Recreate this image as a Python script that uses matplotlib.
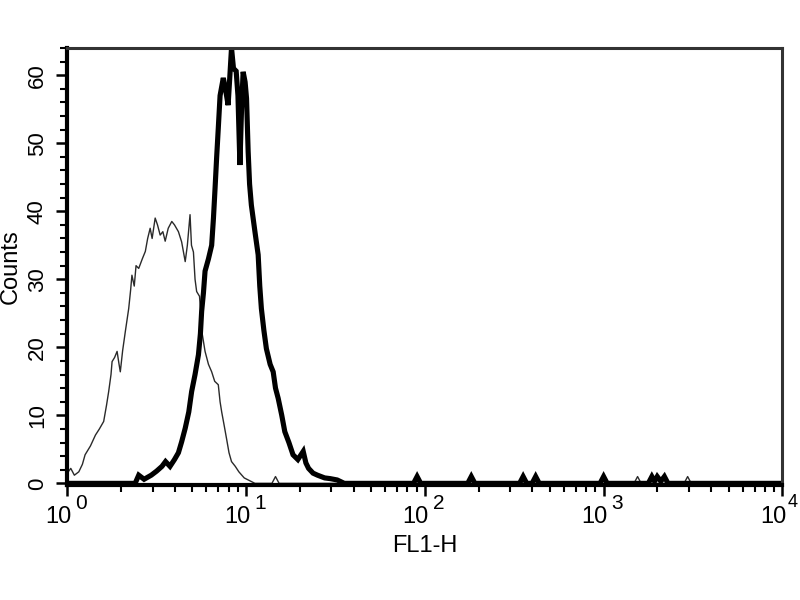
import numpy as np
import matplotlib
matplotlib.use("Agg")
import matplotlib.pyplot as plt
from matplotlib.ticker import LogLocator, MultipleLocator, NullFormatter
from matplotlib import font_manager

plt.rcParams['font.family'] = ['Liberation Sans', 'DejaVu Sans']

names = {f.name for f in font_manager.fontManager.ttflist}
narrow = 'Liberation Sans Narrow' if 'Liberation Sans Narrow' in names else 'Liberation Sans'

# ---- data (log10 of FL1-H, counts) ----
thin_log10 = [0.00, 0.02, 0.04, 0.065, 0.085, 0.10, 0.13, 0.158, 0.18, 0.204,
              0.22, 0.232, 0.245, 0.251, 0.265, 0.279, 0.29, 0.297, 0.31, 0.325,
              0.344, 0.355, 0.362, 0.375, 0.385, 0.40, 0.42, 0.437, 0.45, 0.464,
              0.475, 0.492, 0.505, 0.52, 0.535, 0.548, 0.565, 0.585, 0.60, 0.622,
              0.64, 0.66, 0.672, 0.687, 0.695, 0.706, 0.715, 0.724, 0.74, 0.755,
              0.771, 0.79, 0.808, 0.825, 0.845, 0.855, 0.864, 0.878, 0.891, 0.905,
              0.919, 0.94, 0.96, 0.99, 1.02, 1.05, 1.145, 1.165, 1.185,
              3.17, 3.19, 3.21, 3.45, 3.47, 3.49, 4.0]
thin_counts = [1.5, 2.2, 1.2, 1.7, 2.8, 4.2, 5.5, 7.1, 8.0, 9.1,
               11.5, 13.5, 16.0, 17.9, 18.5, 19.4, 17.5, 16.4, 19.5, 22.3,
               25.7, 28.5, 30.6, 29.0, 32.0, 31.6, 33.0, 34.1, 36.0, 37.5,
               36.0, 39.0, 38.0, 36.5, 37.0, 35.6, 37.5, 38.5, 38.0, 37.0,
               35.5, 32.6, 35.0, 39.5, 35.0, 34.0, 30.0, 28.2, 27.5, 22.0,
               19.4, 17.5, 16.4, 15.0, 14.5, 12.0, 10.5, 8.5, 6.6, 4.5,
               3.2, 2.5, 1.7, 0.8, 0.4, 0.0, 0.0, 1.0, 0.0,
               0.0, 1.0, 0.0, 0.0, 1.0, 0.0, 0.0]

thick_log10 = [0.00, 0.38, 0.40, 0.43, 0.47, 0.50, 0.53, 0.55, 0.575, 0.60,
               0.622, 0.64, 0.66, 0.68, 0.696, 0.715, 0.734, 0.745, 0.752, 0.762,
               0.771, 0.79, 0.808, 0.818, 0.827, 0.836, 0.845, 0.855, 0.873, 0.885,
               0.90, 0.91, 0.919, 0.93, 0.945, 0.955, 0.966, 0.975, 0.984, 0.995,
               1.003, 1.012, 1.02, 1.03, 1.05, 1.068, 1.077, 1.086, 1.10, 1.114,
               1.135, 1.152, 1.165, 1.18, 1.20, 1.217, 1.24, 1.263, 1.29, 1.32,
               1.335, 1.35, 1.375, 1.40, 1.44, 1.47, 1.51, 1.55,
               1.937, 1.957, 1.977, 2.24, 2.26, 2.28, 2.53, 2.55, 2.57, 2.60, 2.62, 2.64,
               2.98, 3.00, 3.02, 3.25, 3.27, 3.285, 3.30, 3.32, 3.34, 3.36, 4.0]
thick_counts = [0.0, 0.0, 1.2, 0.6, 1.2, 1.8, 2.5, 3.2, 2.5, 3.5,
                4.5, 6.1, 8.1, 10.5, 13.5, 16.0, 18.9, 22.0, 25.3, 28.0,
                31.2, 33.0, 35.0, 39.0, 43.4, 48.0, 52.2, 57.0, 59.6, 58.0,
                55.6, 60.0, 64.0, 61.0, 60.6, 57.0, 46.8, 55.0, 60.5, 59.0,
                56.6, 48.8, 44.0, 40.9, 37.0, 33.6, 29.0, 25.7, 22.5, 19.8,
                17.5, 16.4, 14.0, 12.5, 10.0, 7.6, 6.0, 4.2, 3.5, 4.7,
                3.0, 2.2, 1.5, 1.2, 0.8, 0.7, 0.5, 0.0,
                0.0, 1.0, 0.0, 0.0, 1.0, 0.0, 0.0, 1.0, 0.0, 0.0, 1.0, 0.0,
                0.0, 1.0, 0.0, 0.0, 1.0, 0.3, 1.0, 0.3, 1.0, 0.0, 0.0]

y_ticks = [0, 10, 20, 30, 40, 50, 60]
x_decades = [0, 1, 2, 3, 4]

fig = plt.figure(figsize=(8, 6), dpi=100)
ax = fig.add_axes([0.084, 0.191, 0.894, 0.729])

ax.plot(10 ** np.array(thin_log10), thin_counts, color='#2a2a2a', lw=1.0)
ax.plot(10 ** np.array(thick_log10), thick_counts, color='black', lw=3.7,
        solid_joinstyle='miter')

ax.set_xscale('log')
ax.set_xlim(1, 1e4)
ax.set_ylim(-0.3, 64.0)
ax.set_xticks([10.0 ** d for d in x_decades])
ax.xaxis.set_minor_locator(LogLocator(base=10, subs=np.arange(2, 10), numticks=50))
ax.xaxis.set_major_formatter(NullFormatter())
ax.xaxis.set_minor_formatter(NullFormatter())
ax.set_yticks(y_ticks)
ax.yaxis.set_minor_locator(MultipleLocator(2))

for side in ['left', 'bottom']:
    ax.spines[side].set_linewidth(3.0)
for side in ['top', 'right']:
    ax.spines[side].set_linewidth(2.2)
    ax.spines[side].set_color('#333333')

ax.tick_params(axis='both', which='major', direction='out', length=8, width=1.8)
ax.tick_params(axis='both', which='minor', direction='out', length=5, width=1.5)
ax.tick_params(axis='x', which='both', top=False)
ax.tick_params(axis='y', which='both', right=False, labelsize=16, pad=6)
for lab in ax.get_yticklabels():
    lab.set_rotation(90)
    lab.set_va('center')

# decade labels 10^n drawn as base + raised exponent
for d in x_decades:
    ax.annotate('10', xy=(10.0 ** d, 0), xycoords=('data', 'axes fraction'),
                xytext=(4, -21), textcoords='offset pixels',
                ha='right', va='top', fontsize=17, family=narrow,
                annotation_clip=False)
    ax.annotate(str(d), xy=(10.0 ** d, 0), xycoords=('data', 'axes fraction'),
                xytext=(8 if d < 4 else 5, -9), textcoords='offset pixels',
                ha='left', va='top', fontsize=15 if d < 4 else 13, family=narrow,
                annotation_clip=False)

ax.set_xlabel('FL1-H', fontsize=17, labelpad=24)
ax.set_ylabel('Counts', fontsize=17)
ax.yaxis.set_label_coords(-0.064, 0.5)

fig.savefig('out.png', dpi=100)
